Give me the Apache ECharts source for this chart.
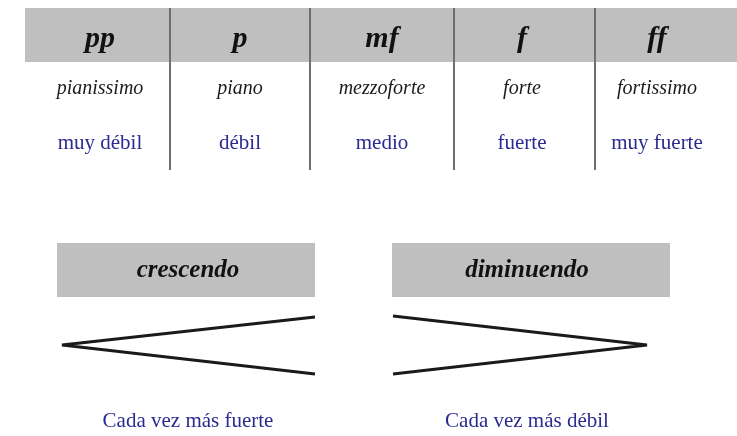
<!DOCTYPE html>
<html>
<head>
<meta charset="utf-8">
<script src="https://cdn.jsdelivr.net/npm/echarts@6/dist/echarts.min.js"></script>
<style>html,body{margin:0;padding:0;background:#fff;}#main{width:737px;height:436px;}</style>
</head>
<body>
<div id="main"></div>
<script>
// ---- data ----
const dynamics = ['pp', 'p', 'mf', 'f', 'ff'];
const italianNames = ['pianissimo', 'piano', 'mezzoforte', 'forte', 'fortissimo'];
const meanings = ['muy débil', 'débil', 'medio', 'fuerte', 'muy fuerte'];
const hairpins = ['crescendo', 'diminuendo'];
const hairpinMeanings = ['Cada vez más fuerte', 'Cada vez más débil'];

// ---- layout (pixel-like data space) ----
const colCenters = [100, 240, 382, 522, 657];
const dividerX = [170, 310, 454, 595];
const rowY = { head: 39, name: 89, meaning: 143 };
const hairpinBoxes = [[57, 243, 315, 297], [392, 243, 670, 297]];
const hairpinCenters = [188, 527];
const hairpinShapes = [
  [[315, 317], [62, 345], [315, 374]],
  [[393, 316], [647, 345], [393, 374]]
];
const hairpinTextY = 421;

const serif = '"Liberation Serif", "DejaVu Serif", serif';
const blue = '#2a2a90';

function textSeries(points, labels, style) {
  return {
    type: 'scatter',
    symbolSize: 0,
    silent: true,
    itemStyle: { opacity: 1 },
    data: points.map((p, i) => ({ value: p, name: labels[i] })),
    label: Object.assign({
      show: true, position: 'inside', formatter: '{b}', opacity: 1,
      fontFamily: serif, align: 'center', verticalAlign: 'middle'
    }, style),
    z: 5
  };
}

const rects = [[25, 8, 737, 62]].concat(hairpinBoxes);

const option = {
  animation: false,
  backgroundColor: '#ffffff',
  grid: { left: 0, right: 0, top: 0, bottom: 0 },
  xAxis: { type: 'value', min: 0, max: 737, show: false },
  yAxis: { type: 'value', min: 0, max: 436, inverse: true, show: false },
  series: [
    {
      type: 'custom',
      silent: true,
      data: rects,
      renderItem: function (params, api) {
        const p1 = api.coord([api.value(0), api.value(1)]);
        const p2 = api.coord([api.value(2), api.value(3)]);
        return {
          type: 'rect',
          shape: { x: p1[0], y: p1[1], width: p2[0] - p1[0], height: p2[1] - p1[1] },
          style: { fill: '#bfbfbf' }
        };
      },
      z: 1
    },
    {
      type: 'lines',
      coordinateSystem: 'cartesian2d',
      silent: true,
      data: dividerX.map(x => ({ coords: [[x, 8], [x, 170]] })),
      lineStyle: { color: '#6e6e6e', width: 2, opacity: 1 },
      z: 3
    },
    ...hairpinShapes.map(shape => ({
      type: 'line',
      data: shape,
      symbol: 'none',
      silent: true,
      lineStyle: { color: '#1a1a1a', width: 2.8 },
      z: 3
    })),
    textSeries(colCenters.map(x => [x, rowY.head]), dynamics,
      { fontSize: 30, fontStyle: 'italic', fontWeight: 'bold', color: '#111' }),
    textSeries(colCenters.map(x => [x, rowY.name]), italianNames,
      { fontSize: 20, fontStyle: 'italic', color: '#1a1a1a' }),
    textSeries(colCenters.map(x => [x, rowY.meaning]), meanings,
      { fontSize: 21, color: blue }),
    textSeries(hairpinCenters.map(x => [x, 271]), hairpins,
      { fontSize: 25, fontStyle: 'italic', fontWeight: 'bold', color: '#111' }),
    textSeries(hairpinCenters.map(x => [x, hairpinTextY]), hairpinMeanings,
      { fontSize: 21, color: blue })
  ]
};

echarts.init(document.getElementById('main')).setOption(option);
</script>
</body>
</html>
